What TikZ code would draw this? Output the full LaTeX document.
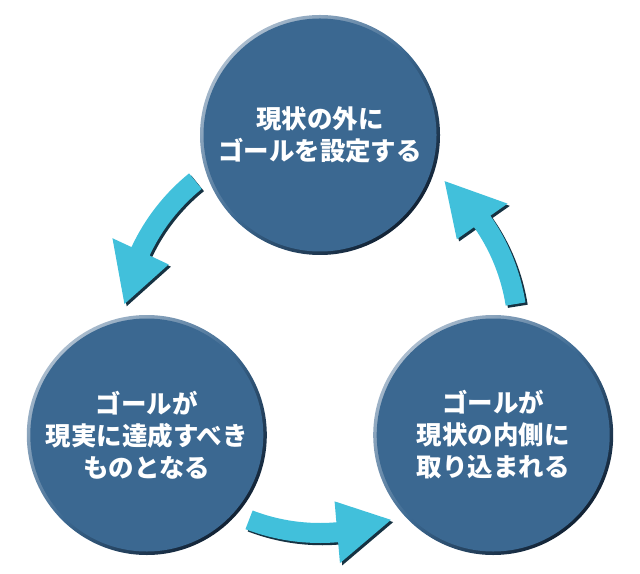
\documentclass[tikz,border=0pt]{standalone}
\usepackage{fontspec}
\newfontfamily\jpfont{Noto Sans CJK JP}
\usepackage{tikz}
\usetikzlibrary{calc}

\definecolor{goalblue}{RGB}{59,104,145}
\definecolor{rimlight}{RGB}{170,188,206}
\definecolor{rimdark}{RGB}{18,34,52}
\definecolor{arrowcyan}{RGB}{65,192,219}
\definecolor{arrowshadow}{RGB}{22,50,66}

\tikzset{
  goal/.style={circle, minimum size=4.8cm, inner sep=0pt,
    top color=rimlight, bottom color=rimdark, middle color=goalblue, shading angle=45,
    path picture={\fill[goalblue] (path picture bounding box.center) circle (2.33cm);},
    text=white, align=center, font=\jpfont\bfseries\fontsize{14.5}{18.2}\selectfont}
}

\begin{document}
\begin{tikzpicture}
      \useasboundingbox (0,0) rectangle (12.8,11.46);
      \coordinate (c) at (6.4,4.76);

      % Kreise
      \node[goal] (goalset) at ($(c)+(90:4)$) {現状の外に\\ゴールを設定する};
      \node[goal] (goalreal) at ($(c)+(210:4)$) {ゴールが\\現実に達成すべき\\ものとなる};
      \node[goal] (goalin) at ($(c)+(330:4)$) {ゴールが\\現状の内側に\\取り込まれる};

      % Pfeile
      \foreach \t in {90,210,330}{
        \pgfmathsetmacro{\ta}{\t+39}
        \pgfmathsetmacro{\tn}{\t+65}
        \pgfmathsetmacro{\tb}{\t+81}
        \foreach \dx/\col in {0.045/arrowshadow, 0/arrowcyan}{
          \begin{scope}[shift={(c)}, shift={(\dx,-\dx)}]
            \fill[\col] (\ta:4.16) arc[start angle=\ta, end angle=\tn, radius=4.16]
              -- (\tn:4.58) -- (\tb:3.96) -- (\tn:3.34) -- (\tn:3.76)
              arc[start angle=\tn, end angle=\ta, radius=3.76] -- cycle;
          \end{scope}
        }
      }
\end{tikzpicture}
\end{document}
